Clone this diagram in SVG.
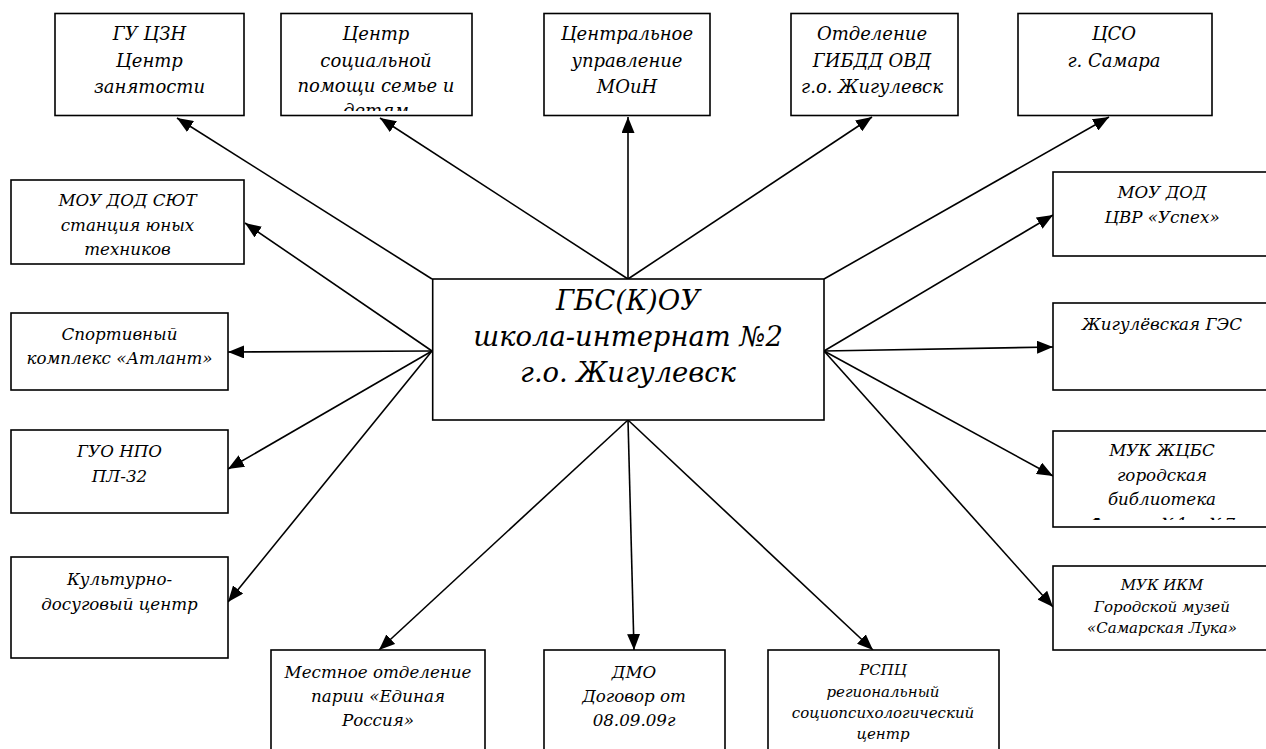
<svg xmlns="http://www.w3.org/2000/svg" width="1266" height="749" viewBox="0 0 1266 749">
<style>
text{font-family:"DejaVu Serif",serif;font-style:italic;fill:#000;text-anchor:middle}
.b{fill:#fff;stroke:#000;stroke-width:1.6}
.t21{font-size:18px}
.t20{font-size:16.7px}
.t18{font-size:15px}
.tc{font-size:27.4px}
.c line{stroke:#000;stroke-width:1.6;marker-end:url(#ah)}
</style>
<defs>
<marker id="ah" markerUnits="userSpaceOnUse" markerWidth="17" markerHeight="13" refX="16" refY="6.5" orient="auto" viewBox="0 0 17 13">
<path d="M0,0 L16,6.5 L0,13 z" fill="#000"/>
</marker>
<clipPath id="clip2"><rect x="282" y="14" width="189" height="97"/></clipPath>
<clipPath id="clip15"><rect x="1054" y="432" width="212" height="88"/></clipPath>
</defs>
<rect width="1266" height="749" fill="#fff"/>

<g class="c" id="connectors">
<line x1="432" y1="279" x2="177" y2="118"/>
<line x1="628" y1="279" x2="380" y2="118"/>
<line x1="628" y1="279" x2="628" y2="117"/>
<line x1="628" y1="279" x2="872" y2="117"/>
<line x1="824" y1="279" x2="1109" y2="117"/>
<line x1="432" y1="351" x2="245" y2="223"/>
<line x1="432" y1="351" x2="228" y2="352"/>
<line x1="432" y1="351" x2="228" y2="469"/>
<line x1="432" y1="351" x2="228" y2="602"/>
<line x1="628" y1="420" x2="379" y2="650"/>
<line x1="628" y1="420" x2="634" y2="650"/>
<line x1="628" y1="420" x2="873" y2="650"/>
<line x1="824" y1="351" x2="1053" y2="215"/>
<line x1="824" y1="351" x2="1053" y2="347"/>
<line x1="824" y1="351" x2="1053" y2="476"/>
<line x1="824" y1="351" x2="1053" y2="607"/>
</g>

<g id="center">
<rect class="b" x="432.7" y="279" width="391.3" height="141"/>
<text class="tc" x="628" y="310">ГБС(К)ОУ</text>
<text class="tc" x="628" y="346">школа-интернат №2</text>
<text class="tc" x="628" y="382">г.о. Жигулевск</text>
</g>

<g id="n1">
<rect class="b" x="55" y="13.5" width="189" height="102"/>
<text class="t21" x="149.5" y="40">ГУ ЦЗН</text>
<text class="t21" x="149.5" y="66.5">Центр</text>
<text class="t21" x="149.5" y="93">занятости</text>
</g>

<g id="n2">
<rect class="b" x="281" y="13.5" width="191" height="102"/>
<g clip-path="url(#clip2)">
<text class="t21" x="376" y="40">Центр</text>
<text class="t21" x="376" y="66.5">социальной</text>
<text class="t21" x="376" y="92">помощи семье и</text>
<text class="t21" x="376" y="117">детям</text>
</g>
</g>

<g id="n3">
<rect class="b" x="544" y="13.5" width="166" height="102"/>
<text class="t21" x="627" y="40">Центральное</text>
<text class="t21" x="627" y="66.5">управление</text>
<text class="t21" x="627" y="93">МОиН</text>
</g>

<g id="n4">
<rect class="b" x="791" y="13.5" width="167" height="102"/>
<text class="t21" x="872" y="40">Отделение</text>
<text class="t21" x="872" y="66.5">ГИБДД ОВД</text>
<text class="t21" x="872" y="93">г.о. Жигулевск</text>
</g>

<g id="n5">
<rect class="b" x="1018" y="13.5" width="194" height="102"/>
<text class="t21" x="1114" y="40">ЦСО</text>
<text class="t21" x="1114" y="66.5">г. Самара</text>
</g>

<g id="n6">
<rect class="b" x="11" y="180" width="233" height="84"/>
<text class="t20" x="127.5" y="206">МОУ ДОД СЮТ</text>
<text class="t20" x="127.5" y="230.5">станция юных</text>
<text class="t20" x="127.5" y="255">техников</text>
</g>

<g id="n7">
<rect class="b" x="11" y="313" width="217" height="77"/>
<text class="t20" x="119.5" y="340">Спортивный</text>
<text class="t20" x="119.5" y="364">комплекс «Атлант»</text>
</g>

<g id="n8">
<rect class="b" x="11" y="430" width="217" height="83"/>
<text class="t20" x="119.5" y="457">ГУО НПО</text>
<text class="t20" x="119.5" y="482">ПЛ-32</text>
</g>

<g id="n9">
<rect class="b" x="11" y="557" width="217" height="101"/>
<text class="t20" x="119.5" y="585">Культурно-</text>
<text class="t20" x="119.5" y="610">досуговый центр</text>
</g>

<g id="n10">
<rect class="b" x="271" y="650" width="214" height="110"/>
<text class="t20" x="378" y="678">Местное отделение</text>
<text class="t20" x="378" y="702">парии «Единая</text>
<text class="t20" x="378" y="726">Россия»</text>
</g>

<g id="n11">
<rect class="b" x="544" y="650" width="181" height="110"/>
<text class="t20" x="634" y="678">ДМО</text>
<text class="t20" x="634" y="702">Договор от</text>
<text class="t20" x="634" y="726">08.09.09г</text>
</g>

<g id="n12">
<rect class="b" x="768" y="650" width="231" height="110"/>
<text class="t18" x="883" y="675">РСПЦ</text>
<text class="t18" x="883" y="697">региональный</text>
<text class="t18" x="883" y="718">социопсихологический</text>
<text class="t18" x="883" y="739">центр</text>
</g>

<g id="n13">
<rect class="b" x="1053" y="172" width="220" height="84"/>
<text class="t20" x="1162" y="198">МОУ ДОД</text>
<text class="t20" x="1162" y="223">ЦВР «Успех»</text>
</g>

<g id="n14">
<rect class="b" x="1053" y="303" width="220" height="87"/>
<text class="t20" x="1162" y="330">Жигулёвская ГЭС</text>
</g>

<g id="n15">
<rect class="b" x="1053" y="431" width="220" height="96"/>
<g clip-path="url(#clip15)">
<text class="t20" x="1162" y="456">МУК ЖЦБС</text>
<text class="t20" x="1162" y="481">городская</text>
<text class="t20" x="1162" y="505">библиотека</text>
<text class="t20" x="1162" y="530">Филиал №1 и №7</text>
</g>
</g>

<g id="n16">
<rect class="b" x="1053" y="566" width="220" height="84"/>
<text class="t18" x="1162" y="590">МУК ИКМ</text>
<text class="t18" x="1162" y="612">Городской музей</text>
<text class="t18" x="1162" y="633">«Самарская Лука»</text>
</g>
</svg>
